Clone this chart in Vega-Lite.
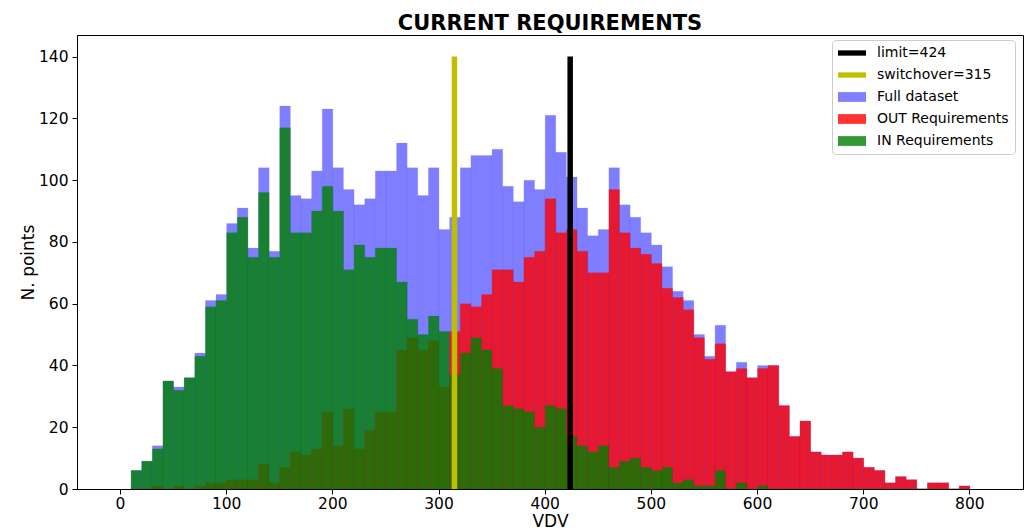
{
  "$schema": "https://vega.github.io/schema/vega-lite/v6.json",
  "autosize": {"type": "none"},
  "width": 946,
  "height": 454,
  "padding": {"left": 77, "top": 35, "right": 4, "bottom": 42},
  "background": "white",
  "title": {"text": "CURRENT REQUIREMENTS", "font": "DejaVu Sans", "fontSize": 21, "fontWeight": "bold", "color": "#000000", "anchor": "middle", "baseline": "alphabetic", "offset": -16},
  "config": {
    "font": "DejaVu Sans",
    "view": {"stroke": "#000000", "strokeWidth": 1},
    "axis": {"grid": false, "domainColor": "#000000", "tickColor": "#000000", "tickSize": 5, "labelColor": "#000000", "labelFontSize": 15.5, "labelFont": "DejaVu Sans", "titleFont": "DejaVu Sans", "titleFontSize": 17, "titleFontWeight": "normal", "titleColor": "#000000"},
    "legend": {"symbolStrokeWidth": 0}
  },
  "datasets": {
    "hist": [
      {"lo":10,"hi":20,"Full dataset":6,"OUT Requirements":0,"IN Requirements":6},
      {"lo":20,"hi":30,"Full dataset":9,"OUT Requirements":0,"IN Requirements":9},
      {"lo":30,"hi":40,"Full dataset":14,"OUT Requirements":1,"IN Requirements":13},
      {"lo":40,"hi":50,"Full dataset":35,"OUT Requirements":0,"IN Requirements":35},
      {"lo":50,"hi":60,"Full dataset":33,"OUT Requirements":1,"IN Requirements":32},
      {"lo":60,"hi":70,"Full dataset":36,"OUT Requirements":0,"IN Requirements":36},
      {"lo":70,"hi":80,"Full dataset":44,"OUT Requirements":1,"IN Requirements":43},
      {"lo":80,"hi":90,"Full dataset":61,"OUT Requirements":2,"IN Requirements":59},
      {"lo":90,"hi":100,"Full dataset":63,"OUT Requirements":2,"IN Requirements":61},
      {"lo":100,"hi":110,"Full dataset":86,"OUT Requirements":3,"IN Requirements":83},
      {"lo":110,"hi":120,"Full dataset":91,"OUT Requirements":3,"IN Requirements":88},
      {"lo":120,"hi":130,"Full dataset":78,"OUT Requirements":3,"IN Requirements":75},
      {"lo":130,"hi":140,"Full dataset":104,"OUT Requirements":8,"IN Requirements":96},
      {"lo":140,"hi":150,"Full dataset":77,"OUT Requirements":2,"IN Requirements":75},
      {"lo":150,"hi":160,"Full dataset":124,"OUT Requirements":7,"IN Requirements":117},
      {"lo":160,"hi":170,"Full dataset":95,"OUT Requirements":12,"IN Requirements":83},
      {"lo":170,"hi":180,"Full dataset":94,"OUT Requirements":11,"IN Requirements":83},
      {"lo":180,"hi":190,"Full dataset":103,"OUT Requirements":13,"IN Requirements":90},
      {"lo":190,"hi":200,"Full dataset":123,"OUT Requirements":25,"IN Requirements":98},
      {"lo":200,"hi":210,"Full dataset":104,"OUT Requirements":14,"IN Requirements":90},
      {"lo":210,"hi":220,"Full dataset":97,"OUT Requirements":26,"IN Requirements":71},
      {"lo":220,"hi":230,"Full dataset":92,"OUT Requirements":13,"IN Requirements":79},
      {"lo":230,"hi":240,"Full dataset":94,"OUT Requirements":19,"IN Requirements":75},
      {"lo":240,"hi":250,"Full dataset":103,"OUT Requirements":25,"IN Requirements":78},
      {"lo":250,"hi":260,"Full dataset":103,"OUT Requirements":25,"IN Requirements":78},
      {"lo":260,"hi":270,"Full dataset":112,"OUT Requirements":45,"IN Requirements":67},
      {"lo":270,"hi":280,"Full dataset":104,"OUT Requirements":49,"IN Requirements":55},
      {"lo":280,"hi":290,"Full dataset":95,"OUT Requirements":45,"IN Requirements":50},
      {"lo":290,"hi":300,"Full dataset":104,"OUT Requirements":48,"IN Requirements":56},
      {"lo":300,"hi":310,"Full dataset":84,"OUT Requirements":33,"IN Requirements":51},
      {"lo":310,"hi":320,"Full dataset":88,"OUT Requirements":51,"IN Requirements":37},
      {"lo":320,"hi":330,"Full dataset":104,"OUT Requirements":60,"IN Requirements":44},
      {"lo":330,"hi":340,"Full dataset":108,"OUT Requirements":59,"IN Requirements":49},
      {"lo":340,"hi":350,"Full dataset":108,"OUT Requirements":63,"IN Requirements":45},
      {"lo":350,"hi":360,"Full dataset":110,"OUT Requirements":71,"IN Requirements":39},
      {"lo":360,"hi":370,"Full dataset":98,"OUT Requirements":71,"IN Requirements":27},
      {"lo":370,"hi":380,"Full dataset":93,"OUT Requirements":67,"IN Requirements":26},
      {"lo":380,"hi":390,"Full dataset":100,"OUT Requirements":75,"IN Requirements":25},
      {"lo":390,"hi":400,"Full dataset":97,"OUT Requirements":77,"IN Requirements":20},
      {"lo":400,"hi":410,"Full dataset":121,"OUT Requirements":94,"IN Requirements":27},
      {"lo":410,"hi":420,"Full dataset":109,"OUT Requirements":83,"IN Requirements":26},
      {"lo":420,"hi":430,"Full dataset":101,"OUT Requirements":84,"IN Requirements":17},
      {"lo":430,"hi":440,"Full dataset":91,"OUT Requirements":77,"IN Requirements":14},
      {"lo":440,"hi":450,"Full dataset":82,"OUT Requirements":70,"IN Requirements":12},
      {"lo":450,"hi":460,"Full dataset":84,"OUT Requirements":70,"IN Requirements":14},
      {"lo":460,"hi":470,"Full dataset":104,"OUT Requirements":97,"IN Requirements":7},
      {"lo":470,"hi":480,"Full dataset":92,"OUT Requirements":83,"IN Requirements":9},
      {"lo":480,"hi":490,"Full dataset":88,"OUT Requirements":78,"IN Requirements":10},
      {"lo":490,"hi":500,"Full dataset":83,"OUT Requirements":76,"IN Requirements":7},
      {"lo":500,"hi":510,"Full dataset":79,"OUT Requirements":73,"IN Requirements":6},
      {"lo":510,"hi":520,"Full dataset":72,"OUT Requirements":65,"IN Requirements":7},
      {"lo":520,"hi":530,"Full dataset":64,"OUT Requirements":62,"IN Requirements":2},
      {"lo":530,"hi":540,"Full dataset":61,"OUT Requirements":58,"IN Requirements":3},
      {"lo":540,"hi":550,"Full dataset":50,"OUT Requirements":49,"IN Requirements":1},
      {"lo":550,"hi":560,"Full dataset":43,"OUT Requirements":42,"IN Requirements":1},
      {"lo":560,"hi":570,"Full dataset":53,"OUT Requirements":47,"IN Requirements":6},
      {"lo":570,"hi":580,"Full dataset":38,"OUT Requirements":38,"IN Requirements":0},
      {"lo":580,"hi":590,"Full dataset":41,"OUT Requirements":39,"IN Requirements":2},
      {"lo":590,"hi":600,"Full dataset":36,"OUT Requirements":36,"IN Requirements":0},
      {"lo":600,"hi":610,"Full dataset":40,"OUT Requirements":39,"IN Requirements":1},
      {"lo":610,"hi":620,"Full dataset":40,"OUT Requirements":40,"IN Requirements":0},
      {"lo":620,"hi":630,"Full dataset":27,"OUT Requirements":27,"IN Requirements":0},
      {"lo":630,"hi":640,"Full dataset":17,"OUT Requirements":17,"IN Requirements":0},
      {"lo":640,"hi":650,"Full dataset":22,"OUT Requirements":22,"IN Requirements":0},
      {"lo":650,"hi":660,"Full dataset":12,"OUT Requirements":12,"IN Requirements":0},
      {"lo":660,"hi":670,"Full dataset":11,"OUT Requirements":11,"IN Requirements":0},
      {"lo":670,"hi":680,"Full dataset":11,"OUT Requirements":11,"IN Requirements":0},
      {"lo":680,"hi":690,"Full dataset":12,"OUT Requirements":12,"IN Requirements":0},
      {"lo":690,"hi":700,"Full dataset":10,"OUT Requirements":10,"IN Requirements":0},
      {"lo":700,"hi":710,"Full dataset":7,"OUT Requirements":7,"IN Requirements":0},
      {"lo":710,"hi":720,"Full dataset":6,"OUT Requirements":6,"IN Requirements":0},
      {"lo":720,"hi":730,"Full dataset":2,"OUT Requirements":2,"IN Requirements":0},
      {"lo":730,"hi":740,"Full dataset":4,"OUT Requirements":4,"IN Requirements":0},
      {"lo":740,"hi":750,"Full dataset":3,"OUT Requirements":3,"IN Requirements":0},
      {"lo":750,"hi":760,"Full dataset":0,"OUT Requirements":0,"IN Requirements":0},
      {"lo":760,"hi":770,"Full dataset":2,"OUT Requirements":2,"IN Requirements":0},
      {"lo":770,"hi":780,"Full dataset":2,"OUT Requirements":2,"IN Requirements":0},
      {"lo":780,"hi":790,"Full dataset":0,"OUT Requirements":0,"IN Requirements":0},
      {"lo":790,"hi":800,"Full dataset":1,"OUT Requirements":1,"IN Requirements":0}
    ],
    "lines": [
      {"series": "limit=424", "v": 424},
      {"series": "switchover=315", "v": 315}
    ]
  },
  "layer": [
    {
      "data": {"name": "hist"},
      "transform": [
        {"fold": ["Full dataset", "OUT Requirements", "IN Requirements"], "as": ["series", "count"]}
      ],
      "mark": {"type": "bar", "binSpacing": 0, "strokeWidth": 0.2, "clip": true},
      "encoding": {
        "x": {"field": "lo", "type": "quantitative", "bin": {"binned": true, "step": 10},
          "scale": {"domain": [-40.5, 850.5], "nice": false, "zero": false},
          "axis": {"values": [0,100,200,300,400,500,600,700,800], "title": "VDV", "labelPadding": 2, "titlePadding": 2, "labelFlush": false}},
        "x2": {"field": "hi"},
        "y": {"field": "count", "type": "quantitative", "stack": null,
          "scale": {"domain": [0, 147], "nice": false},
          "axis": {"values": [0,20,40,60,80,100,120,140], "title": "N. points", "labelPadding": 4, "titlePadding": 1}},
        "color": {"field": "series", "type": "nominal",
          "scale": {"domain": ["limit=424", "switchover=315", "Full dataset", "OUT Requirements", "IN Requirements"],
                    "range": ["#000000", "#bfbf00", "#0000ff", "#ff0000", "#008000"]},
          "legend": {
            "title": null, "orient": "none", "legendX": 755, "legendY": 5,
            "padding": 6, "rowPadding": 8, "symbolSize": 196, "symbolStrokeWidth": 0,
            "labelFont": "DejaVu Sans", "labelFontSize": 14, "labelColor": "#000000", "labelOffset": 25,
            "strokeColor": "#cccccc", "fillColor": "#ffffff", "cornerRadius": 4
          }},
        "stroke": {"field": "series", "type": "nominal",
          "scale": {"domain": ["Full dataset", "OUT Requirements", "IN Requirements"],
                    "range": ["#0000ff", "#ff0000", "#008000"]},
          "legend": null},
        "opacity": {"field": "series", "type": "nominal",
          "scale": {"type": "ordinal", "domain": ["limit=424", "switchover=315", "Full dataset", "OUT Requirements", "IN Requirements"],
                    "range": [1, 1, 0.5, 0.8, 0.8]},
          "legend": {
            "title": null, "orient": "none", "legendX": 755, "legendY": 5,
            "padding": 6, "rowPadding": 8, "symbolSize": 196, "symbolStrokeWidth": 0,
            "labelFont": "DejaVu Sans", "labelFontSize": 14, "labelColor": "#000000", "labelOffset": 25,
            "strokeColor": "#cccccc", "fillColor": "#ffffff", "cornerRadius": 4
          }}
      }
    },
    {
      "data": {"name": "lines"},
      "mark": {"type": "rule", "strokeWidth": 5.5},
      "encoding": {
        "x": {"field": "v", "type": "quantitative"},
        "y": {"datum": 0},
        "y2": {"datum": 140},
        "color": {"field": "series", "type": "nominal"}
      }
    },
    {
      "data": {"name": "lines"},
      "transform": [{"filter": "datum.v < 0"}],
      "mark": {"type": "point", "filled": true},
      "encoding": {
        "x": {"field": "v", "type": "quantitative"},
        "y": {"datum": 0},
        "shape": {"field": "series", "type": "nominal",
          "scale": {"domain": ["limit=424", "switchover=315", "Full dataset", "OUT Requirements", "IN Requirements"],
                    "range": ["M-1,-0.38H3V0.38H-1Z", "M-1,-0.38H3V0.38H-1Z", "M-1,-0.7H3V0.7H-1Z", "M-1,-0.7H3V0.7H-1Z", "M-1,-0.7H3V0.7H-1Z"]},
          "legend": {
            "title": null, "orient": "none", "legendX": 755, "legendY": 5,
            "padding": 6, "rowPadding": 8, "symbolSize": 196, "symbolStrokeWidth": 0,
            "labelFont": "DejaVu Sans", "labelFontSize": 14, "labelColor": "#000000", "labelOffset": 25,
            "strokeColor": "#cccccc", "fillColor": "#ffffff", "cornerRadius": 4
          }}
      }
    }
  ]
}
